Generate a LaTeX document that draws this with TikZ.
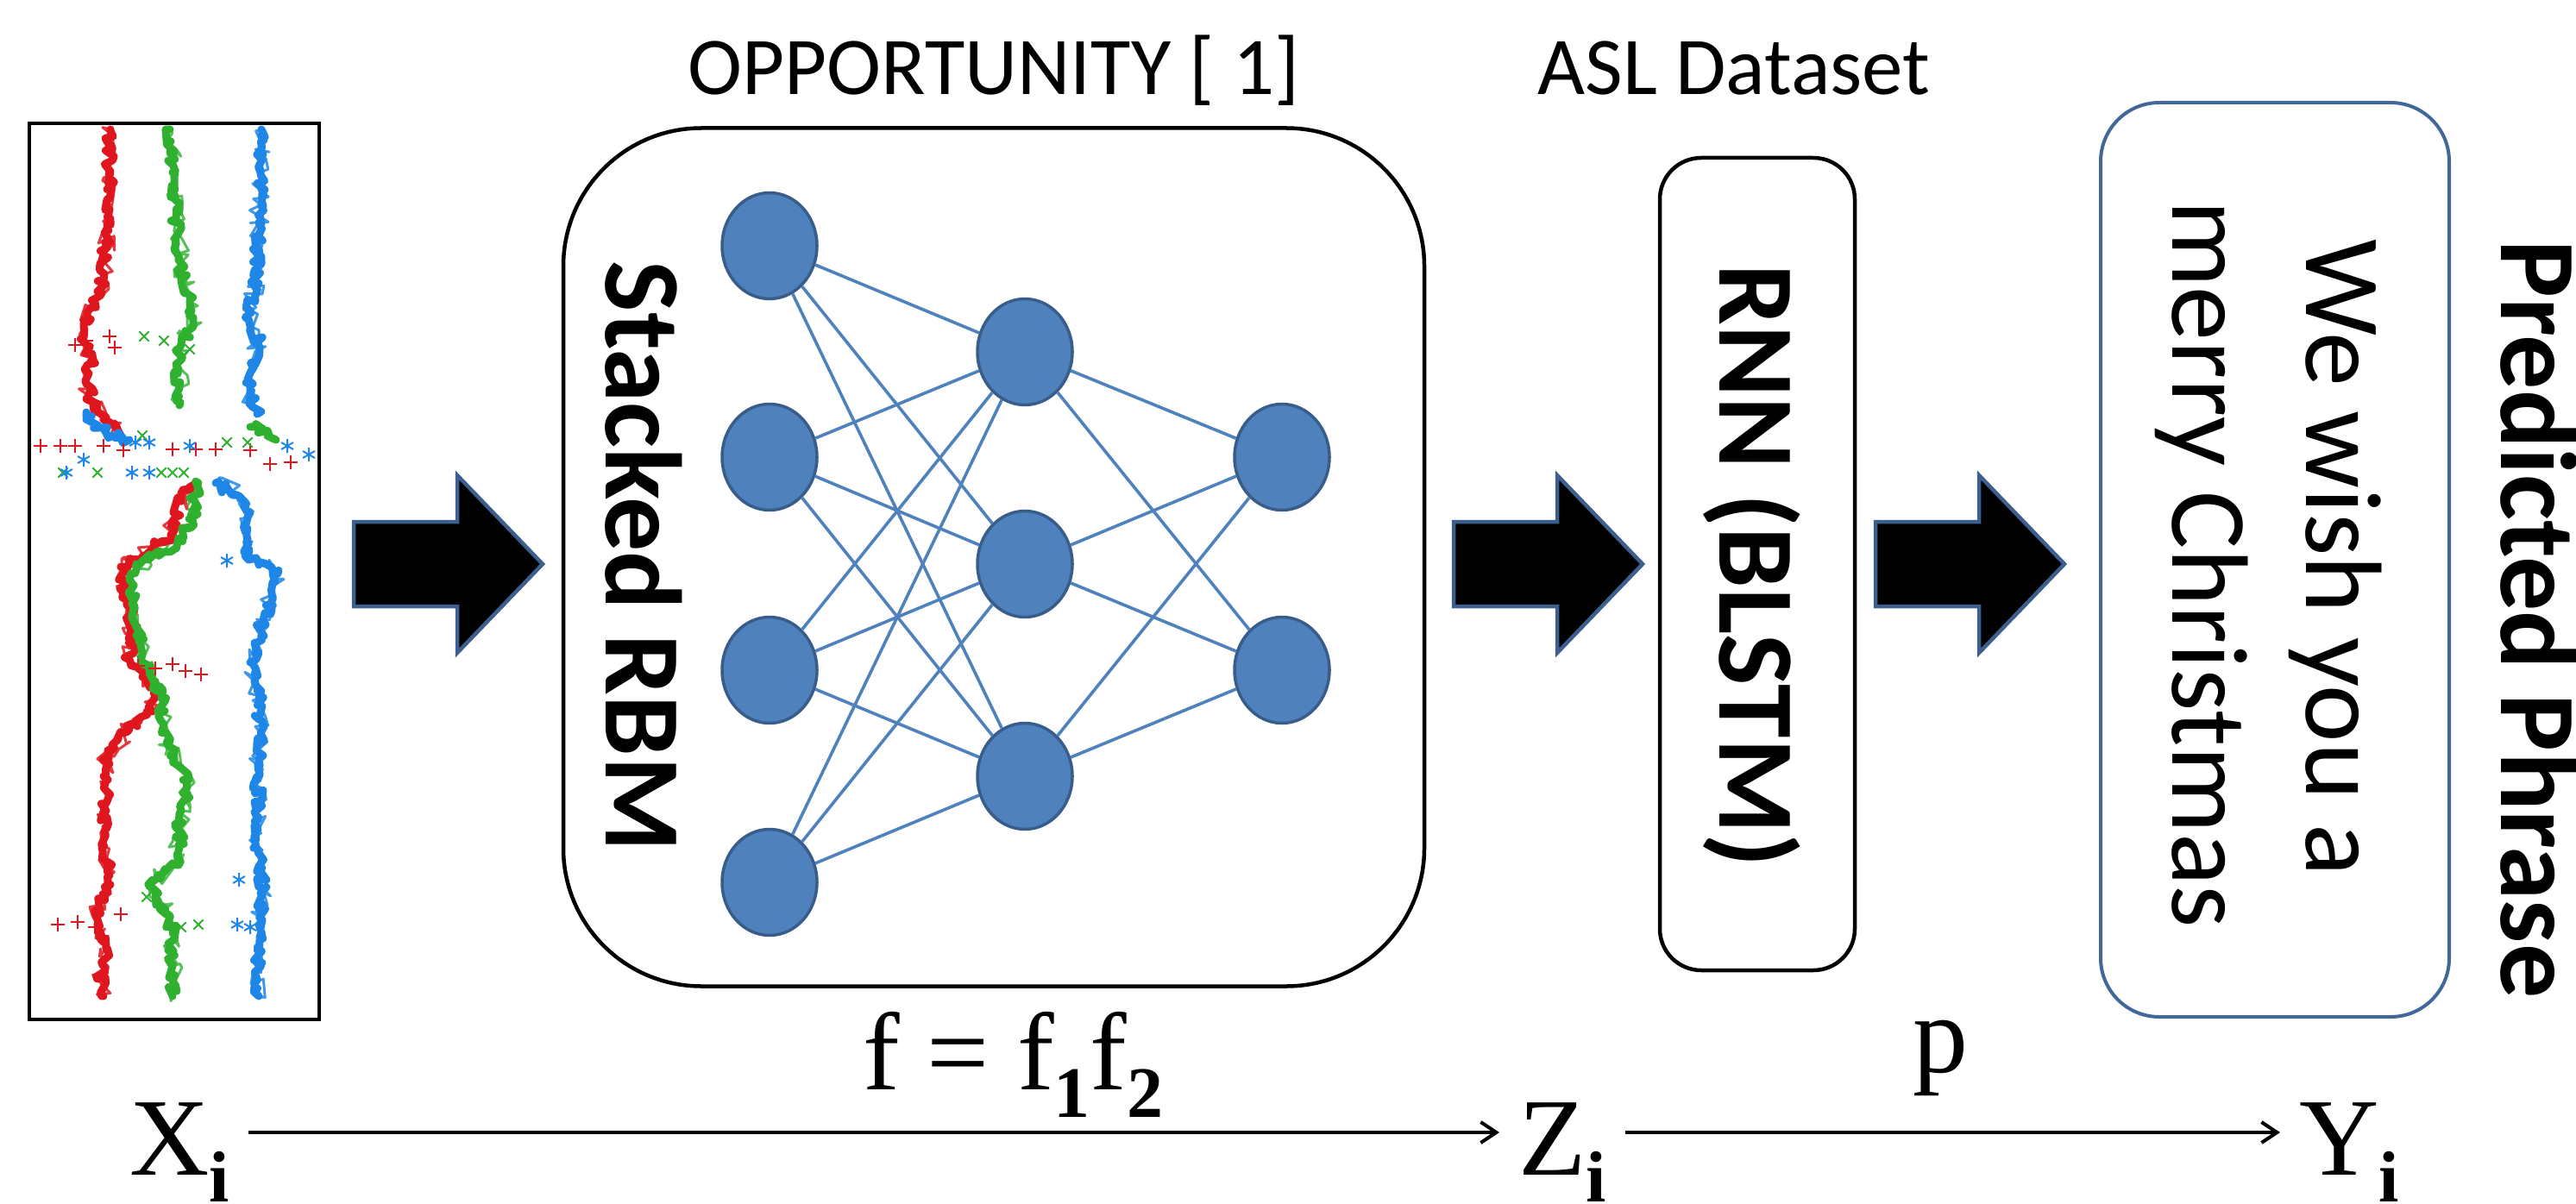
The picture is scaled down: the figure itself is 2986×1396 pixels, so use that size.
\documentclass[tikz,border=0pt]{standalone}
\usepackage{fontspec}
\setmainfont{Liberation Serif}
\newfontfamily\calibri{Carlito}
\usetikzlibrary{arrows.meta,shapes.geometric,decorations.pathmorphing,plotmarks}
\definecolor{nodefill}{HTML}{4F81BD}
\definecolor{nodeline}{HTML}{385D8A}
\definecolor{edgeblue}{HTML}{4F81BD}
\definecolor{arrowblue}{HTML}{3C5F8E}
\definecolor{boxblue}{HTML}{41679B}
\definecolor{sigred}{HTML}{E0161E}
\definecolor{siggreen}{HTML}{2FB02F}
\definecolor{sigblue}{HTML}{1E86E6}
\newcommand\subb[1]{\raisebox{-31pt}{\fontsize{84pt}{84pt}\selectfont\bfseries #1}}
\newcommand\blockarrow[1]{\draw[blockarrow] (#1,605) -- ++(120,0) -- ++(0,-54) -- ++(99,103) -- ++(-99,103) -- ++(0,-54) -- ++(-120,0) -- cycle;}
\tikzset{
 neuron/.style={ellipse, inner sep=0pt, minimum width=110pt, minimum height=123pt, fill=nodefill, draw=nodeline, line width=3.5pt},
 edge/.style={draw=edgeblue, line width=3.6pt},
 blockarrow/.style={fill=black, draw=arrowblue, line width=4.5pt, line join=miter, miter limit=10},
 panel/.style={draw, line width=4.5pt, inner sep=0pt},
 bigbold/.style={font=\calibri\bfseries\fontsize{126pt}{150pt}\selectfont, inner sep=0pt, rotate=-90, anchor=base},
 bigreg/.style={font=\calibri\fontsize{126pt}{150pt}\selectfont, inner sep=0pt, rotate=-90, anchor=base},
 toplabel/.style={font=\calibri\fontsize{95pt}{110pt}\selectfont, inner sep=0pt, anchor=base},
 mathlbl/.style={font=\fontsize{128pt}{140pt}\selectfont, inner ysep=0pt, inner xsep=22pt, anchor=base west},
 conn/.style={line width=4pt, -{Straight Barb[length=18pt,width=24pt]}},
 trace/.style={line width=9pt, line join=round, line cap=round, decorate, decoration={random steps, segment length=4pt, amplitude=6pt}},
 fuzz/.style={line width=3pt, line join=round, decorate, decoration={random steps, segment length=6pt, amplitude=11pt}},
}
\newcommand\redA{(128,150) -- (127,200) -- (124,260) -- (120,325) -- (110,350) -- (97,380) -- (100,400) -- (105,420) -- (100,445) -- (108,470) -- (125,490) -- (140,505)}
\newcommand\redB{(228,560) -- (210,572) -- (203,600) -- (198,620) -- (175,638) -- (150,650) -- (140,670) -- (148,700) -- (155,740) -- (150,765) -- (165,785) -- (183,800) -- (170,825) -- (150,845) -- (125,870) -- (120,900) -- (123,940) -- (120,980) -- (127,1015) -- (115,1050) -- (113,1072) -- (123,1100) -- (118,1130) -- (120,1155)}
\newcommand\greenA{(197,150) -- (200,200) -- (204,258) -- (212,320) -- (220,350) -- (223,380) -- (210,400) -- (207,420) -- (208,450) -- (208,470)}
\newcommand\greenB{(230,560) -- (225,580) -- (223,603) -- (210,625) -- (190,640) -- (160,655) -- (150,672) -- (153,700) -- (160,730) -- (165,768) -- (180,790) -- (187,810) -- (190,840) -- (195,865) -- (210,890) -- (217,913) -- (210,940) -- (207,980) -- (207,1003) -- (180,1020) -- (173,1028) -- (195,1060) -- (200,1080) -- (200,1120) -- (200,1155)}
\newcommand\blueA{(303,150) -- (302,200) -- (300,258) -- (298,320) -- (290,360) -- (290,378) -- (300,395) -- (292,420) -- (290,450) -- (293,472) -- (298,480)}
\newcommand\blueB{(250,560) -- (277,575) -- (287,600) -- (283,640) -- (300,655) -- (322,665) -- (315,690) -- (305,720) -- (298,745) -- (290,768) -- (295,790) -- (300,810) -- (302,850) -- (300,880) -- (298,950) -- (300,990) -- (305,1030) -- (300,1072) -- (300,1100) -- (300,1155)}
\begin{document}
\begin{tikzpicture}[x=1pt,y=-1pt]
\useasboundingbox (0,0) rectangle (2986,1396);
\pgfmathsetseed{7}
% signal panel
\node[panel, minimum width=336pt, minimum height=1039pt] (sig) at (202,662.5) {};
\begin{scope}
\clip (37,146) rectangle (367,1178);
\draw[fuzz, siggreen!80] \greenA;
\draw[fuzz, siggreen!80] \greenB;
\draw[fuzz, sigblue!85] \blueA;
\draw[fuzz, sigblue!85] \blueB;
\draw[fuzz, sigred!85] \redA;
\draw[fuzz, sigred!85] \redB;
\draw[trace, sigred] \redA;
\draw[trace, sigred] \redB;
\draw[trace, siggreen] \greenA;
\draw[trace, siggreen] (290,495) -- (320,510);
\draw[trace, siggreen] \greenB;
\draw[trace, sigblue] \blueA;
\draw[trace, sigblue] (100,478) -- (110,495) -- (130,505) -- (150,510);
\draw[trace, sigblue] \blueB;
\draw[sigred, line width=2pt] plot[only marks, mark=+, mark size=8pt] coordinates {(47,517) (70,517) (87,517) (120,517) (143,522) (200,521) (227,521) (250,521) (290,522) (313,538) (337,536) (87,400) (100,395) (127,390) (133,403) (67,1072) (90,1069) (110,1075) (160,772) (180,775) (200,770) (215,778) (233,782) (140,1060)};
\draw[siggreen, line width=2pt] plot[only marks, mark=x, mark size=8pt] coordinates {(73,548) (113,548) (165,505) (187,548) (200,548) (213,548) (263,513) (287,513) (167,390) (190,395) (220,405) (230,1072) (210,1075) (170,1040)};
\draw[sigblue, line width=2pt] plot[only marks, mark=asterisk, mark size=8pt] coordinates {(97,533) (77,548) (157,513) (173,513) (153,548) (173,548) (220,517) (333,517) (358,527) (263,650) (275,1072) (290,1075) (277,1020)};
\end{scope}
% block arrows
\blockarrow{410}
\blockarrow{1685}
\blockarrow{2174}
% RBM panel
\node[panel, rounded corners=160pt, minimum width=998pt, minimum height=995pt] (rbm) at (1152,646) {};
\node[bigbold] (stk) at (702,645) {Stacked RBM};
\node[toplabel] (opp) at (1152,110) {OPPORTUNITY [ 1]};
\node[neuron] (a1) at (892,285) {};
\node[neuron] (a2) at (892,530) {};
\node[neuron] (a3) at (892,777) {};
\node[neuron] (a4) at (892,1023) {};
\node[neuron] (b1) at (1188,408) {};
\node[neuron] (b2) at (1188,654) {};
\node[neuron] (b3) at (1188,900) {};
\node[neuron] (c1) at (1486,530) {};
\node[neuron] (c2) at (1486,777) {};
\foreach \i in {1,...,4} \foreach \j in {1,2,3} \draw[edge] (a\i) -- (b\j);
\foreach \j in {1,2,3} \foreach \k in {1,2} \draw[edge] (b\j) -- (c\k);
% RNN panel
\node[panel, rounded corners=48pt, minimum width=226pt, minimum height=942pt] (rnn) at (2037,654) {};
\node[bigbold] (rnnt) at (1993,656) {RNN (BLSTM)};
\node[toplabel] (asl) at (2010,110) {ASL Dataset};
% phrase panel
\node[panel, draw=boxblue, line width=4pt, rounded corners=68pt, minimum width=404pt, minimum height=1060pt] (phr) at (2637,649) {};
\node[bigreg] (l1) at (2673,647) {We wish you a};
\node[bigreg] (l2) at (2518,654) {merry Christmas};
\node[bigbold, text height=80pt, text depth=0pt] (pp) at (2899,718) {Predicted Phrase};
% bottom mapping
\node[mathlbl] (X) at (128,1362) {X\subb{i}};
\node[mathlbl] (Z) at (1738,1362) {Z\subb{i}};
\node[mathlbl] (Y) at (2643,1362) {Y\subb{i}};
\draw[conn] (X.east |- 0,1313) -- (Z.west |- 0,1313);
\draw[conn] (Z.east |- 0,1313) -- (Y.west |- 0,1313);
\node[font=\fontsize{128pt}{140pt}\selectfont, inner sep=0pt, anchor=base west] (f) at (1000,1263) {f = f\raisebox{-32pt}{\fontsize{84pt}{84pt}\selectfont\bfseries 1}f\raisebox{-32pt}{\fontsize{84pt}{84pt}\selectfont\bfseries 2}};
\node[font=\fontsize{128pt}{140pt}\selectfont, inner sep=0pt, anchor=base west] (p) at (2217,1243) {p};
\end{tikzpicture}
\end{document}
